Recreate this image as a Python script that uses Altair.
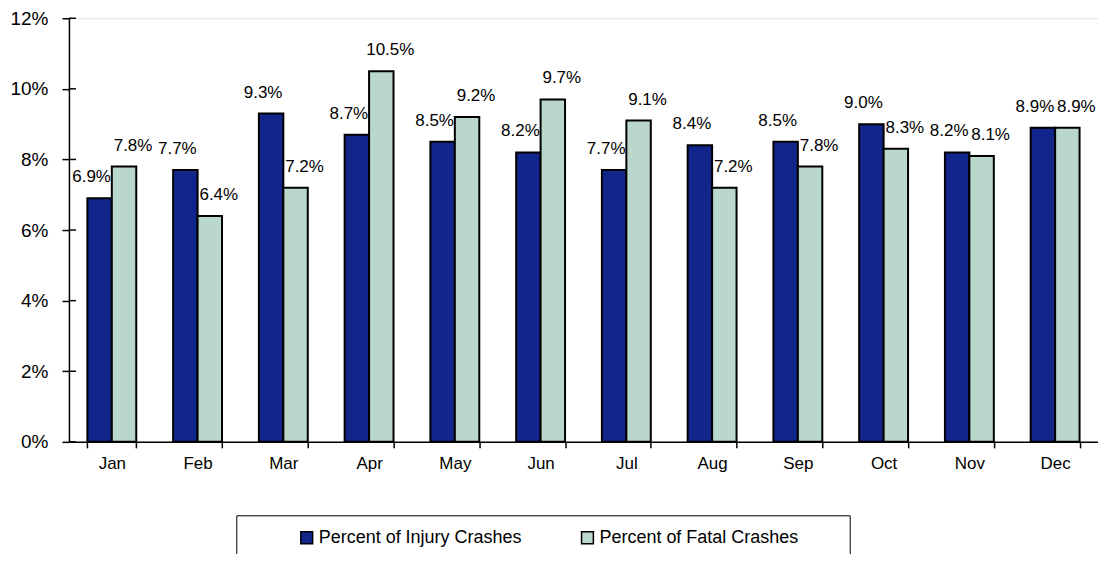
import altair as alt
import pandas as pd

months = ["Jan", "Feb", "Mar", "Apr", "May", "Jun", "Jul", "Aug", "Sep", "Oct", "Nov", "Dec"]
injury = [6.9, 7.7, 9.3, 8.7, 8.5, 8.2, 7.7, 8.4, 8.5, 9.0, 8.2, 8.9]
fatal = [7.8, 6.4, 7.2, 10.5, 9.2, 9.7, 9.1, 7.2, 7.8, 8.3, 8.1, 8.9]
series = ["Percent of Injury Crashes", "Percent of Fatal Crashes"]
colors = ["#12258A", "#BAD7CB"]
yticks = [0, 2, 4, 6, 8, 10, 12]

rows = []
for m, a, b in zip(months, injury, fatal):
    rows.append({"month": m, "series": series[0], "value": a})
    rows.append({"month": m, "series": series[1], "value": b})
df = pd.DataFrame(rows)

FONT = "Liberation Sans Narrow, Arial Narrow, Liberation Sans, Arial, sans-serif"

yscale = alt.Scale(domain=[0, 12])

base = alt.Chart(df).encode(
    x=alt.X("month:N", sort=months, title=None,
            scale=alt.Scale(paddingInner=0.43, paddingOuter=0.215),
            axis=alt.Axis(labelAngle=0, tickBand="extent", tickSize=6, labelPadding=8,
                          domainColor="black", tickColor="black", domainWidth=1.5, tickWidth=1.5,
                          labelFont=FONT, labelFontSize=17, labelColor="black")),
    xOffset=alt.XOffset("series:N", sort=series),
)

bars = base.mark_bar(stroke="black", strokeWidth=2).encode(
    y=alt.Y("value:Q", title=None, scale=yscale,
            axis=alt.Axis(values=yticks, labelExpr="datum.value + '%'",
                          grid=False, tickSize=7, labelPadding=14,
                          domainColor="black", tickColor="black", domainWidth=1.5, tickWidth=1.5,
                          labelFont=FONT, labelFontSize=19, labelColor="black")),
    color=alt.Color("series:N", sort=series, scale=alt.Scale(domain=series, range=colors),
                    legend=alt.Legend(title=None, orient="none", direction="horizontal",
                                      legendX=229, legendY=511, symbolType="square",
                                      symbolSize=140, symbolStrokeColor="black",
                                      symbolStrokeWidth=1.5, symbolOpacity=1,
                                      labelFont=FONT, labelFontSize=18, labelColor="black",
                                      columnPadding=56, labelOffset=3, padding=0,
                                      labelLimit=400)),
)

def labels(s, dx):
    return alt.Chart(df).transform_filter(alt.datum.series == s).transform_calculate(
        lab="format(datum.value, '.1f') + '%'"
    ).mark_text(baseline="bottom", dy=-12, dx=dx, font=FONT, fontSize=17, color="black").encode(
        x=alt.X("month:N", sort=months),
        xOffset=alt.XOffset("series:N", sort=series),
        y=alt.Y("value:Q", scale=yscale),
        text="lab:N",
    )

ticks_in = alt.Chart(pd.DataFrame({"v": yticks})).mark_rule(color="black", strokeWidth=1.5).encode(
    y=alt.Y("v:Q", scale=yscale), x=alt.value(0), x2=alt.value(7)
)

box = alt.Chart(pd.DataFrame({"k": [0]})).mark_rect(
    fill="white", stroke="black", strokeWidth=1
).encode(x=alt.value(168), x2=alt.value(782), y=alt.value(498), y2=alt.value(543))

chart = alt.layer(box, bars, ticks_in, labels(series[0], -8), labels(series[1], 9)).properties(
    width=1030, height=424,
    autosize=alt.AutoSizeParams(type="none"),
    padding={"left": 61, "top": 10, "right": 0, "bottom": 112},
).configure_view(stroke=None).configure(background="white")

chart.save("out.html", embed_options={"renderer": "svg", "actions": False})
